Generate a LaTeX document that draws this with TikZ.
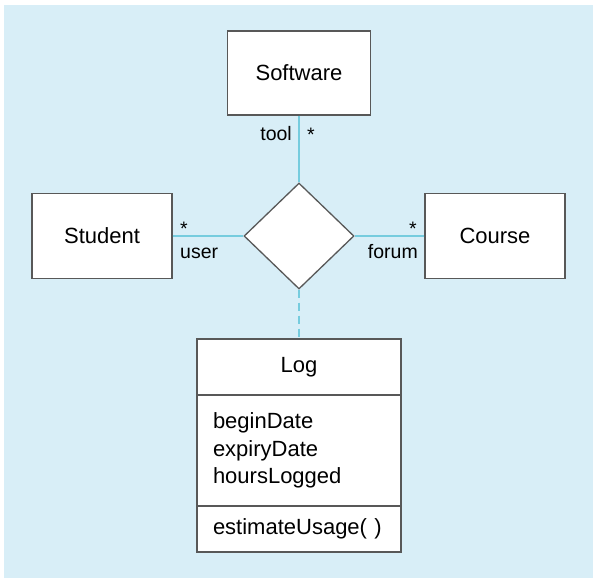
\documentclass[tikz,border=0pt]{standalone}
\usepackage{fontspec}
\setmainfont{Liberation Sans}
\usetikzlibrary{shapes.geometric}
\definecolor{bgblue}{RGB}{216,238,247}
\definecolor{linkcyan}{RGB}{118,204,222}
\definecolor{boxgrey}{RGB}{88,88,88}
\begin{document}
\begin{tikzpicture}[x=1pt,y=-1pt,
  cls/.style={draw=boxgrey, line width=1.3pt, fill=white, minimum width=140pt,
    minimum height=85pt, inner sep=0pt, font=\fontsize{22}{26}\selectfont},
  part/.style={draw=boxgrey, line width=1.3pt, fill=white, minimum width=204pt,
    inner sep=0pt, font=\fontsize{22}{27.5}\selectfont},
  lpart/.style={part, text width=172pt, inner xsep=16pt, align=left},
  rel/.style={draw=boxgrey, line width=1.3pt, fill=white, diamond,
    minimum width=110pt, minimum height=106pt, inner sep=0pt},
  link/.style={draw=linkcyan, line width=1.8pt},
  dlink/.style={link, dash pattern=on 8pt off 5pt},
  lbl/.style={inner sep=0pt, font=\fontsize{19.5}{22}\selectfont}
]
\useasboundingbox (0,0) rectangle (597,582);
\fill[white] (0,0) rectangle (597,582);
\fill[bgblue] (4,5) rectangle (593,578);

\node[cls, minimum width=143pt, minimum height=84pt] (software) at (299,73) {Software};
\node[cls] (student) at (102,236) {Student};
\node[cls] (course) at (495,236) {Course};
\node[rel] (assoc) at (299,236) {};

\node[part, minimum height=56pt] (logtitle) at (299,367) {Log};
\node[lpart, minimum height=111pt] (logattr) at (299,450.5) {beginDate\\expiryDate\\hoursLogged};
\node[lpart, minimum height=46pt] (logops) at (299,529) {estimateUsage( )};

\draw[link] (software.south) -- (assoc.north);
\draw[link] (student.east) -- (assoc.west);
\draw[link] (course.west) -- (assoc.east);
\draw[dlink] (assoc.south) -- (logtitle.north);

\node[lbl, anchor=base east] (ltool) at (292,140) {tool};
\node[lbl, anchor=base] (mtool) at (311,141) {*};
\node[lbl, anchor=base west] (luser) at (180,258) {user};
\node[lbl, anchor=base] (muser) at (184,235) {*};
\node[lbl, anchor=base east] (lforum) at (418,258) {forum};
\node[lbl, anchor=base] (mforum) at (413,235) {*};
\end{tikzpicture}
\end{document}
